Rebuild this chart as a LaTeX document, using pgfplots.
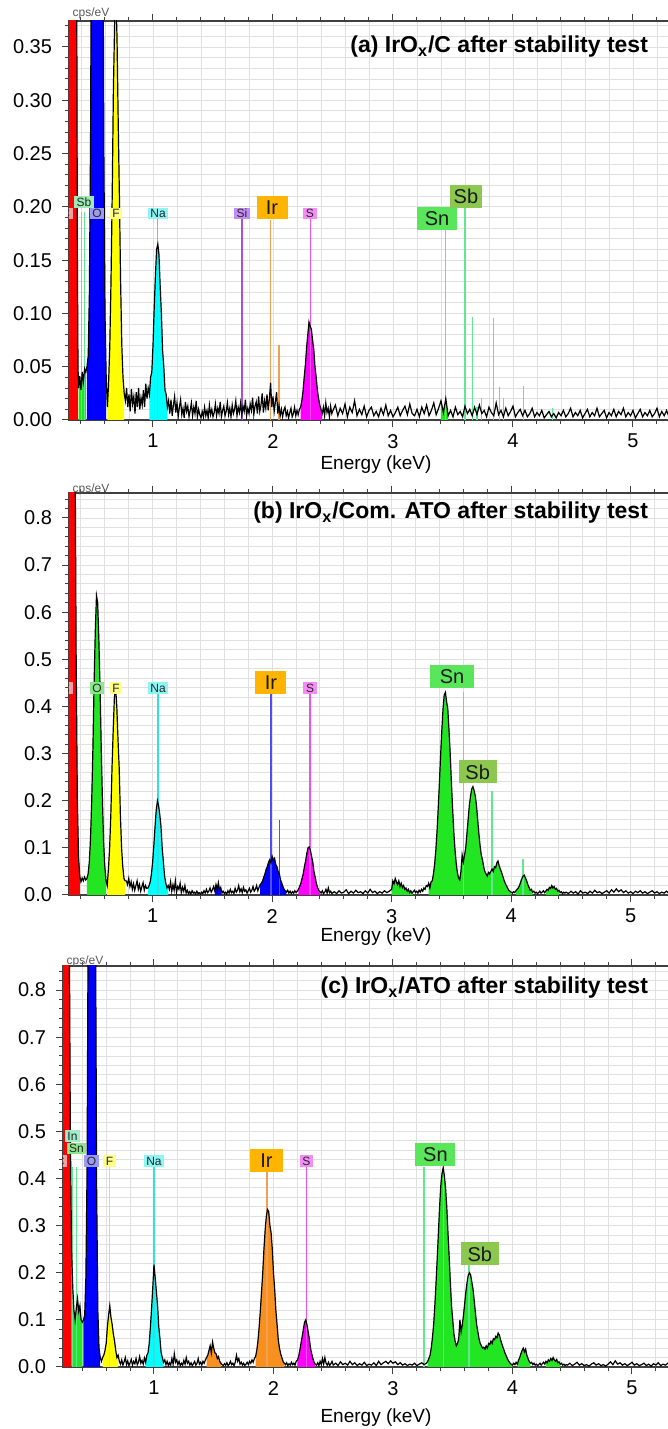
\documentclass[border=0pt]{standalone}
\usepackage{fontspec}
\setmainfont{Liberation Sans}
\usepackage{pgfplots}
\usepackage{pgfplotstable}
\pgfplotsset{compat=1.18}

\definecolor{cR}{HTML}{FF0000}
\definecolor{cB}{HTML}{0000FF}
\definecolor{cY}{HTML}{FFFF00}
\definecolor{cC}{HTML}{00FFFF}
\definecolor{cM}{HTML}{FF00FF}
\definecolor{cG}{HTML}{22E622}
\definecolor{cO}{HTML}{F7901E}
\definecolor{labO1}{HTML}{9A9AF5}
\definecolor{labO2}{HTML}{8CE68C}
\definecolor{labF}{HTML}{FFFF88}
\definecolor{labNa}{HTML}{8CF5F5}
\definecolor{labSi}{HTML}{C38CF5}
\definecolor{labS}{HTML}{F58CF5}
\definecolor{labIr}{HTML}{FFB400}
\definecolor{labSn}{HTML}{5AE65A}
\definecolor{labSns}{HTML}{8CE68C}
\definecolor{labSb}{HTML}{8CC850}
\definecolor{labSbs}{HTML}{9CEBB4}
\definecolor{labIn}{HTML}{A0EBC8}
\definecolor{labC}{HTML}{F5A0A0}
\definecolor{lnNa}{HTML}{33E0E0}
\definecolor{lnSi}{HTML}{A050F0}
\definecolor{lnIr}{HTML}{F0A050}
\definecolor{lnIrb}{HTML}{5050F0}
\definecolor{lnS}{HTML}{F050F0}
\definecolor{lnSn}{HTML}{60E890}
\definecolor{lnF}{HTML}{E8E840}

\tikzset{
 lab/.style={fill=#1, inner xsep=1.3pt, inner ysep=0pt, minimum height=5.6pt, font=\fontsize{6}{6}\selectfont, text=black!85},
 blab/.style={fill=#1, inner xsep=2pt, inner ysep=0pt, minimum height=11.5pt, font=\fontsize{10}{10}\selectfont, text=black!90},
}

\pgfplotsset{
 eds/.style={
   scale only axis, anchor=south west,
   xmax=5.5, ymin=0,
   axis line style={black!75, line width=0.6pt},
   tick align=outside,
   major tick length=3.5pt, minor tick length=2pt,
   tick style={black!75, line width=0.5pt},
   xtick={1,2,3,4,5},
   minor xtick={0.2,0.4,0.6,0.8,1.2,1.4,1.6,1.8,2.2,2.4,2.6,2.8,3.2,3.4,3.6,3.8,4.2,4.4,4.6,4.8,5.2,5.4},
   grid=both,
   major grid style={gray!24, line width=0.45pt},
   minor grid style={gray!24, line width=0.45pt},
   tick label style={font=\fontsize{10}{11}\selectfont},
   /pgf/number format/assume math mode=true,
 },
 mk/.style={draw=#1, line width=0.6pt, forget plot},
 spec/.style={black, line width=0.6pt},
}

\pgfplotstableread[row sep=\\]{
x y\\
0.30 1.2\\ 0.31 1.2\\ 0.32 1.1\\ 0.33 1.0\\ 0.34 0.9\\ 0.35 0.75\\ 0.36 0.6\\ 0.365 0.38\\ 0.37 0.15\\ 0.375 0.05\\
0.38 0.03\\ 0.39 0.041\\ 0.40 0.028\\ 0.41 0.045\\ 0.42 0.036\\ 0.43 0.048\\ 0.44 0.045\\
0.45 0.05\\ 0.46 0.06\\ 0.47 0.12\\ 0.48 0.27\\ 0.49 0.57\\ 0.50 1.05\\ 0.51 1.7\\ 0.52 2.3\\ 0.53 2.7\\ 0.54 2.7\\ 0.55 2.3\\ 0.56 1.7\\ 0.57 1.05\\ 0.58 0.56\\ 0.59 0.26\\ 0.60 0.1\\ 0.61 0.04\\ 0.62 0.012\\
0.63 0.035\\ 0.64 0.07\\ 0.65 0.13\\ 0.66 0.21\\ 0.67 0.31\\ 0.68 0.37\\ 0.69 0.40\\ 0.70 0.36\\ 0.71 0.28\\ 0.72 0.21\\ 0.73 0.13\\ 0.74 0.07\\ 0.75 0.04\\ 0.76 0.025\\
0.77 0.018\\ 0.78 0.03\\ 0.79 0.012\\ 0.80 0.024\\ 0.81 0.008\\ 0.82 0.029\\ 0.83 0.015\\ 0.84 0.022\\ 0.85 0.006\\ 0.86 0.026\\ 0.87 0.012\\ 0.88 0.03\\ 0.89 0.01\\ 0.90 0.021\\ 0.91 0.014\\ 0.92 0.028\\ 0.93 0.012\\ 0.94 0.034\\ 0.95 0.02\\ 0.96 0.03\\
0.97 0.024\\ 0.98 0.04\\ 0.99 0.045\\ 1.00 0.07\\ 1.01 0.105\\ 1.02 0.135\\ 1.03 0.16\\ 1.04 0.165\\ 1.05 0.155\\ 1.06 0.125\\ 1.07 0.10\\ 1.08 0.065\\ 1.09 0.05\\ 1.10 0.028\\ 1.11 0.024\\ 1.12 0.012\\ 1.13 0.018\\
1.14 0.006\\ 1.15 0.019\\ 1.16 0.004\\ 1.17 0.014\\ 1.18 0.022\\ 1.19 0.007\\ 1.20 0.016\\ 1.21 0.003\\ 1.22 0.012\\ 1.23 0.019\\ 1.24 0.005\\ 1.25 0.011\\ 1.26 0.002\\ 1.27 0.017\\ 1.28 0.008\\ 1.29 0.013\\ 1.30 0.003\\ 1.31 0.009\\ 1.32 0.016\\ 1.33 0.004\\ 1.34 0.012\\ 1.35 0.006\\ 1.36 0.018\\ 1.37 0.003\\ 1.38 0.010\\ 1.39 0.005\\
1.40 0.002\\ 1.41 0.008\\ 1.42 0.003\\ 1.43 0.012\\ 1.44 0.004\\ 1.45 0.009\\ 1.46 0.002\\ 1.47 0.014\\ 1.48 0.005\\ 1.49 0.010\\ 1.50 0.003\\ 1.51 0.007\\ 1.52 0.015\\ 1.53 0.004\\ 1.54 0.011\\ 1.55 0.006\\ 1.56 0.017\\ 1.57 0.003\\ 1.58 0.009\\ 1.59 0.013\\ 1.60 0.004\\ 1.61 0.008\\ 1.62 0.016\\ 1.63 0.005\\ 1.64 0.011\\ 1.65 0.003\\ 1.66 0.014\\ 1.67 0.006\\ 1.68 0.010\\ 1.69 0.018\\
1.70 0.004\\ 1.71 0.012\\ 1.72 0.007\\ 1.73 0.016\\ 1.74 0.005\\ 1.75 0.013\\ 1.76 0.008\\ 1.77 0.019\\ 1.78 0.004\\ 1.79 0.011\\ 1.80 0.006\\ 1.81 0.015\\ 1.82 0.009\\ 1.83 0.021\\ 1.84 0.005\\ 1.85 0.013\\ 1.86 0.017\\ 1.87 0.006\\ 1.88 0.022\\ 1.89 0.008\\ 1.90 0.014\\ 1.91 0.025\\ 1.92 0.007\\ 1.93 0.018\\ 1.94 0.011\\ 1.95 0.024\\ 1.96 0.009\\ 1.97 0.020\\ 1.98 0.035\\ 1.99 0.012\\
2.00 0.022\\ 2.01 0.008\\ 2.02 0.017\\ 2.03 0.026\\ 2.04 0.006\\ 2.05 0.014\\ 2.06 0.004\\ 2.07 0.010\\ 2.08 0.003\\ 2.09 0.009\\ 2.10 0.012\\ 2.11 0.004\\ 2.12 0.008\\ 2.13 0.002\\ 2.14 0.007\\ 2.15 0.011\\ 2.16 0.003\\ 2.17 0.006\\ 2.18 0.012\\ 2.19 0.004\\ 2.20 0.009\\ 2.21 0.005\\ 2.22 0.010\\
2.23 0.012\\ 2.24 0.018\\ 2.25 0.027\\ 2.26 0.040\\ 2.27 0.052\\ 2.28 0.068\\ 2.29 0.080\\ 2.30 0.092\\ 2.31 0.088\\ 2.32 0.085\\ 2.33 0.075\\ 2.34 0.066\\ 2.35 0.050\\ 2.36 0.040\\ 2.37 0.028\\ 2.38 0.020\\ 2.39 0.014\\ 2.40 0.010\\ 2.41 0.006\\
2.42 0.012\\ 2.43 0.004\\ 2.44 0.016\\ 2.45 0.007\\ 2.46 0.011\\ 2.47 0.003\\ 2.48 0.013\\ 2.49 0.006\\ 2.50 0.009\\
2.52 0.014\\ 2.54 0.004\\ 2.56 0.011\\ 2.58 0.006\\ 2.60 0.015\\ 2.62 0.003\\ 2.64 0.012\\ 2.66 0.007\\ 2.68 0.018\\ 2.70 0.004\\ 2.72 0.010\\ 2.74 0.005\\ 2.76 0.013\\ 2.78 0.003\\ 2.80 0.009\\ 2.82 0.012\\ 2.84 0.004\\ 2.86 0.008\\ 2.88 0.003\\ 2.90 0.011\\ 2.92 0.005\\ 2.94 0.014\\ 2.96 0.004\\ 2.98 0.009\\
3.00 0.003\\ 3.02 0.007\\ 3.04 0.012\\ 3.06 0.004\\ 3.08 0.009\\ 3.10 0.013\\ 3.12 0.005\\ 3.14 0.015\\ 3.16 0.006\\ 3.18 0.004\\ 3.20 0.010\\ 3.22 0.003\\ 3.24 0.012\\ 3.26 0.006\\ 3.28 0.014\\ 3.30 0.004\\ 3.32 0.009\\ 3.34 0.016\\ 3.36 0.005\\ 3.38 0.011\\ 3.40 0.018\\ 3.42 0.007\\ 3.44 0.020\\ 3.46 0.004\\ 3.48 0.009\\
3.50 0.003\\ 3.52 0.012\\ 3.54 0.005\\ 3.56 0.008\\ 3.58 0.003\\ 3.60 0.013\\ 3.62 0.006\\ 3.64 0.010\\ 3.66 0.004\\ 3.68 0.012\\ 3.70 0.005\\ 3.72 0.014\\ 3.74 0.006\\ 3.76 0.009\\ 3.78 0.003\\ 3.80 0.012\\ 3.82 0.007\\ 3.84 0.004\\ 3.86 0.016\\ 3.88 0.005\\ 3.90 0.009\\ 3.92 0.003\\ 3.94 0.011\\ 3.96 0.004\\ 3.98 0.008\\
4.00 0.013\\ 4.02 0.003\\ 4.04 0.007\\ 4.06 0.010\\ 4.08 0.004\\ 4.10 0.009\\ 4.12 0.003\\ 4.14 0.006\\ 4.16 0.011\\ 4.18 0.003\\ 4.20 0.007\\ 4.22 0.004\\ 4.24 0.009\\ 4.26 0.002\\ 4.28 0.005\\ 4.30 0.008\\ 4.32 0.003\\ 4.34 0.006\\ 4.36 0.002\\ 4.38 0.007\\ 4.40 0.004\\ 4.42 0.009\\ 4.44 0.003\\ 4.46 0.006\\ 4.48 0.011\\
4.50 0.003\\ 4.52 0.007\\ 4.54 0.004\\ 4.56 0.009\\ 4.58 0.002\\ 4.60 0.006\\ 4.62 0.010\\ 4.64 0.003\\ 4.66 0.007\\ 4.68 0.004\\ 4.70 0.011\\ 4.72 0.003\\ 4.74 0.006\\ 4.76 0.009\\ 4.78 0.002\\ 4.80 0.007\\ 4.82 0.004\\ 4.84 0.010\\ 4.86 0.003\\ 4.88 0.008\\ 4.90 0.005\\ 4.92 0.011\\ 4.94 0.003\\ 4.96 0.007\\ 4.98 0.004\\
5.00 0.009\\ 5.02 0.002\\ 5.04 0.006\\ 5.06 0.010\\ 5.08 0.003\\ 5.10 0.007\\ 5.12 0.004\\ 5.14 0.009\\ 5.16 0.003\\ 5.18 0.006\\ 5.20 0.011\\ 5.22 0.003\\ 5.24 0.008\\ 5.26 0.004\\ 5.28 0.009\\ 5.30 0.003\\ 5.32 0.006\\
}\specA

\pgfplotstableread[row sep=\\]{
x y\\
0.30 2.0\\ 0.31 2.0\\ 0.32 1.9\\ 0.33 1.7\\ 0.34 1.4\\ 0.35 1.0\\ 0.36 0.5\\ 0.37 0.2\\ 0.38 0.08\\ 0.39 0.04\\
0.40 0.028\\ 0.41 0.036\\ 0.42 0.03\\ 0.43 0.038\\ 0.44 0.032\\
0.45 0.035\\ 0.46 0.045\\ 0.47 0.07\\ 0.48 0.12\\ 0.49 0.2\\ 0.50 0.31\\ 0.51 0.45\\ 0.52 0.56\\ 0.53 0.635\\ 0.54 0.62\\ 0.55 0.54\\ 0.56 0.44\\ 0.57 0.31\\ 0.58 0.2\\ 0.59 0.11\\ 0.60 0.06\\ 0.61 0.03\\ 0.62 0.02\\
0.63 0.055\\ 0.64 0.1\\ 0.65 0.17\\ 0.66 0.27\\ 0.67 0.35\\ 0.68 0.42\\ 0.69 0.44\\ 0.70 0.40\\ 0.71 0.33\\ 0.72 0.27\\ 0.73 0.17\\ 0.74 0.10\\ 0.75 0.06\\ 0.76 0.035\\ 0.77 0.03\\
0.78 0.03\\ 0.79 0.022\\ 0.80 0.035\\ 0.81 0.018\\ 0.82 0.028\\ 0.83 0.012\\ 0.84 0.024\\ 0.85 0.01\\ 0.86 0.02\\ 0.87 0.03\\ 0.88 0.012\\ 0.89 0.022\\ 0.90 0.008\\ 0.91 0.018\\ 0.92 0.026\\ 0.93 0.01\\ 0.94 0.02\\ 0.95 0.014\\
0.96 0.015\\ 0.97 0.02\\ 0.98 0.028\\ 0.99 0.045\\ 1.00 0.07\\ 1.01 0.105\\ 1.02 0.145\\ 1.03 0.18\\ 1.04 0.2\\ 1.05 0.19\\ 1.06 0.17\\ 1.07 0.145\\ 1.08 0.1\\ 1.09 0.07\\ 1.10 0.04\\ 1.11 0.025\\ 1.12 0.015\\ 1.13 0.02\\
1.14 0.012\\ 1.15 0.028\\ 1.16 0.008\\ 1.17 0.022\\ 1.18 0.01\\ 1.19 0.03\\ 1.20 0.006\\ 1.21 0.018\\ 1.22 0.012\\ 1.23 0.025\\ 1.24 0.005\\ 1.25 0.016\\ 1.26 0.008\\ 1.27 0.02\\ 1.28 0.004\\ 1.29 0.01\\ 1.30 0.003\\ 1.31 0.007\\ 1.32 0.002\\ 1.33 0.009\\ 1.34 0.004\\ 1.35 0.006\\ 1.36 0.002\\ 1.37 0.008\\ 1.38 0.003\\ 1.39 0.005\\
1.40 0.002\\ 1.41 0.006\\ 1.42 0.003\\ 1.43 0.009\\ 1.44 0.004\\ 1.45 0.012\\ 1.46 0.005\\ 1.47 0.008\\ 1.48 0.015\\ 1.49 0.006\\ 1.50 0.011\\ 1.51 0.018\\ 1.52 0.009\\ 1.53 0.022\\ 1.54 0.012\\ 1.55 0.026\\ 1.56 0.01\\ 1.57 0.016\\ 1.58 0.004\\ 1.59 0.008\\ 1.60 0.003\\ 1.61 0.006\\ 1.62 0.002\\ 1.63 0.009\\ 1.64 0.004\\ 1.65 0.012\\ 1.66 0.005\\ 1.67 0.008\\ 1.68 0.003\\ 1.69 0.014\\
1.70 0.006\\ 1.71 0.01\\ 1.72 0.02\\ 1.73 0.007\\ 1.74 0.013\\ 1.75 0.005\\ 1.76 0.016\\ 1.77 0.008\\ 1.78 0.011\\ 1.79 0.004\\ 1.80 0.009\\ 1.81 0.014\\ 1.82 0.006\\ 1.83 0.01\\ 1.84 0.018\\ 1.85 0.008\\ 1.86 0.012\\ 1.87 0.02\\ 1.88 0.009\\ 1.89 0.016\\
1.90 0.022\\ 1.91 0.025\\ 1.92 0.03\\ 1.93 0.038\\ 1.94 0.045\\ 1.95 0.055\\ 1.96 0.06\\ 1.97 0.07\\ 1.98 0.075\\ 1.99 0.068\\ 2.00 0.082\\ 2.01 0.074\\ 2.02 0.078\\ 2.03 0.065\\ 2.04 0.06\\ 2.05 0.05\\ 2.06 0.045\\ 2.07 0.032\\ 2.08 0.026\\ 2.09 0.018\\ 2.10 0.012\\ 2.11 0.009\\ 2.12 0.006\\
2.13 0.01\\ 2.14 0.004\\ 2.15 0.008\\ 2.16 0.003\\ 2.17 0.007\\ 2.18 0.004\\ 2.19 0.009\\ 2.20 0.005\\ 2.21 0.008\\ 2.22 0.012\\
2.23 0.018\\ 2.24 0.025\\ 2.25 0.035\\ 2.26 0.045\\ 2.27 0.06\\ 2.28 0.072\\ 2.29 0.088\\ 2.30 0.1\\ 2.31 0.102\\ 2.32 0.095\\ 2.33 0.082\\ 2.34 0.07\\ 2.35 0.05\\ 2.36 0.038\\ 2.37 0.025\\ 2.38 0.016\\ 2.39 0.01\\ 2.40 0.007\\
2.41 0.004\\ 2.42 0.009\\ 2.43 0.003\\ 2.44 0.006\\ 2.45 0.012\\ 2.46 0.004\\ 2.47 0.015\\ 2.48 0.005\\ 2.49 0.008\\ 2.50 0.003\\
2.52 0.007\\ 2.54 0.003\\ 2.56 0.009\\ 2.58 0.004\\ 2.60 0.006\\ 2.62 0.011\\ 2.64 0.003\\ 2.66 0.008\\ 2.68 0.004\\ 2.70 0.01\\ 2.72 0.005\\ 2.74 0.007\\ 2.76 0.003\\ 2.78 0.009\\ 2.80 0.004\\ 2.82 0.012\\ 2.84 0.005\\ 2.86 0.008\\ 2.88 0.003\\ 2.90 0.007\\ 2.92 0.004\\ 2.94 0.009\\ 2.96 0.005\\ 2.98 0.008\\
3.00 0.012\\ 3.01 0.03\\ 3.02 0.024\\ 3.03 0.035\\ 3.04 0.028\\ 3.05 0.022\\ 3.06 0.03\\ 3.07 0.018\\ 3.08 0.025\\ 3.09 0.016\\ 3.10 0.02\\ 3.11 0.012\\ 3.12 0.015\\ 3.13 0.008\\ 3.14 0.012\\ 3.15 0.005\\ 3.16 0.009\\ 3.17 0.004\\ 3.18 0.007\\ 3.19 0.01\\ 3.20 0.005\\
3.21 0.008\\ 3.22 0.004\\ 3.23 0.01\\ 3.24 0.006\\ 3.25 0.012\\ 3.26 0.008\\ 3.27 0.015\\ 3.28 0.012\\ 3.29 0.02\\ 3.30 0.018\\ 3.31 0.025\\
3.32 0.015\\ 3.33 0.028\\ 3.34 0.03\\ 3.35 0.045\\ 3.36 0.066\\ 3.37 0.096\\ 3.38 0.136\\ 3.39 0.185\\ 3.40 0.24\\ 3.41 0.298\\ 3.42 0.35\\ 3.43 0.395\\ 3.44 0.425\\ 3.45 0.43\\ 3.46 0.41\\ 3.47 0.395\\ 3.48 0.35\\ 3.49 0.30\\ 3.50 0.24\\ 3.51 0.185\\ 3.52 0.135\\ 3.53 0.097\\ 3.54 0.068\\ 3.55 0.048\\ 3.56 0.036\\ 3.57 0.032\\ 3.58 0.05\\ 3.59 0.085\\
3.60 0.07\\ 3.61 0.085\\ 3.62 0.10\\ 3.63 0.13\\ 3.64 0.16\\ 3.65 0.19\\ 3.66 0.21\\ 3.67 0.225\\ 3.68 0.23\\ 3.69 0.222\\ 3.70 0.21\\ 3.71 0.19\\ 3.72 0.16\\ 3.73 0.13\\ 3.74 0.105\\ 3.75 0.085\\ 3.76 0.075\\ 3.77 0.06\\ 3.78 0.05\\ 3.79 0.045\\
3.80 0.04\\ 3.81 0.048\\ 3.82 0.045\\ 3.83 0.05\\ 3.84 0.055\\ 3.85 0.05\\ 3.86 0.06\\ 3.87 0.058\\ 3.88 0.068\\ 3.89 0.072\\ 3.90 0.062\\ 3.91 0.055\\ 3.92 0.048\\ 3.93 0.04\\ 3.94 0.032\\ 3.95 0.025\\ 3.96 0.02\\ 3.97 0.015\\ 3.98 0.01\\ 3.99 0.008\\ 4.00 0.006\\
4.01 0.004\\ 4.02 0.007\\ 4.03 0.005\\ 4.04 0.009\\ 4.05 0.012\\ 4.06 0.015\\ 4.07 0.02\\ 4.08 0.028\\ 4.09 0.035\\ 4.10 0.04\\ 4.11 0.042\\ 4.12 0.036\\ 4.13 0.03\\ 4.14 0.022\\ 4.15 0.016\\ 4.16 0.01\\ 4.17 0.012\\ 4.18 0.006\\ 4.19 0.008\\ 4.20 0.004\\
4.21 0.006\\ 4.22 0.003\\ 4.23 0.005\\ 4.24 0.008\\ 4.25 0.004\\ 4.26 0.006\\ 4.27 0.009\\ 4.28 0.005\\ 4.29 0.008\\ 4.30 0.012\\ 4.31 0.01\\ 4.32 0.016\\ 4.33 0.014\\ 4.34 0.02\\ 4.35 0.015\\ 4.36 0.018\\ 4.37 0.012\\ 4.38 0.014\\ 4.39 0.008\\ 4.40 0.01\\ 4.41 0.005\\ 4.42 0.007\\ 4.43 0.003\\ 4.44 0.006\\ 4.45 0.004\\
4.46 0.006\\ 4.48 0.003\\ 4.50 0.008\\ 4.52 0.004\\ 4.54 0.007\\ 4.56 0.002\\ 4.58 0.009\\ 4.60 0.004\\ 4.62 0.006\\ 4.64 0.003\\ 4.66 0.008\\ 4.68 0.004\\ 4.70 0.01\\ 4.72 0.005\\ 4.74 0.007\\ 4.76 0.003\\ 4.78 0.006\\ 4.80 0.009\\ 4.82 0.004\\ 4.84 0.011\\ 4.86 0.006\\ 4.88 0.013\\ 4.90 0.007\\ 4.92 0.011\\ 4.94 0.005\\ 4.96 0.009\\ 4.98 0.004\\
5.00 0.007\\ 5.02 0.003\\ 5.04 0.008\\ 5.06 0.005\\ 5.08 0.009\\ 5.10 0.004\\ 5.12 0.007\\ 5.14 0.003\\ 5.16 0.006\\ 5.18 0.009\\ 5.20 0.004\\ 5.22 0.007\\ 5.24 0.003\\ 5.26 0.006\\ 5.28 0.004\\ 5.30 0.008\\ 5.32 0.004\\
}\specB

\pgfplotstableread[row sep=\\]{
x y\\
0.24 2.0\\ 0.25 2.0\\ 0.26 2.0\\ 0.27 1.8\\ 0.28 1.5\\ 0.29 1.0\\ 0.30 0.5\\ 0.31 0.25\\ 0.32 0.17\\ 0.33 0.12\\ 0.34 0.1\\ 0.35 0.125\\ 0.36 0.145\\ 0.37 0.118\\ 0.38 0.13\\ 0.39 0.1\\ 0.40 0.095\\
0.41 0.1\\ 0.42 0.11\\ 0.43 0.19\\ 0.44 0.42\\ 0.45 1.0\\ 0.46 1.95\\ 0.47 2.96\\ 0.48 3.4\\ 0.49 2.96\\ 0.50 1.95\\ 0.51 1.0\\ 0.52 0.38\\ 0.53 0.12\\ 0.54 0.04\\ 0.55 0.02\\
0.56 0.012\\ 0.57 0.02\\ 0.58 0.025\\ 0.59 0.035\\ 0.60 0.05\\ 0.61 0.085\\ 0.62 0.11\\ 0.63 0.13\\ 0.64 0.105\\ 0.65 0.09\\ 0.66 0.07\\ 0.67 0.055\\ 0.68 0.035\\ 0.69 0.02\\ 0.70 0.025\\ 0.71 0.012\\
0.72 0.006\\ 0.73 0.015\\ 0.74 0.004\\ 0.75 0.011\\ 0.76 0.02\\ 0.77 0.005\\ 0.78 0.013\\ 0.79 0.003\\ 0.80 0.009\\ 0.81 0.016\\ 0.82 0.004\\ 0.83 0.012\\ 0.84 0.007\\ 0.85 0.018\\ 0.86 0.005\\ 0.87 0.01\\ 0.88 0.022\\ 0.89 0.008\\ 0.90 0.014\\ 0.91 0.006\\ 0.92 0.019\\
0.93 0.01\\ 0.94 0.025\\ 0.95 0.03\\ 0.96 0.05\\ 0.97 0.085\\ 0.98 0.125\\ 0.99 0.17\\ 1.00 0.217\\ 1.01 0.19\\ 1.02 0.16\\ 1.03 0.13\\ 1.04 0.085\\ 1.05 0.06\\ 1.06 0.03\\ 1.07 0.02\\ 1.08 0.01\\
1.09 0.015\\ 1.10 0.005\\ 1.11 0.012\\ 1.12 0.003\\ 1.13 0.009\\ 1.14 0.004\\ 1.15 0.018\\ 1.16 0.006\\ 1.17 0.028\\ 1.18 0.01\\ 1.19 0.015\\ 1.20 0.005\\ 1.21 0.012\\ 1.22 0.003\\ 1.23 0.008\\ 1.24 0.004\\ 1.25 0.014\\ 1.26 0.006\\ 1.27 0.02\\ 1.28 0.008\\ 1.29 0.012\\
1.30 0.004\\ 1.31 0.009\\ 1.32 0.003\\ 1.33 0.007\\ 1.34 0.012\\ 1.35 0.004\\ 1.36 0.008\\ 1.37 0.018\\ 1.38 0.006\\ 1.39 0.01\\ 1.40 0.004\\ 1.41 0.012\\ 1.42 0.008\\ 1.43 0.015\\ 1.44 0.02\\
1.45 0.025\\ 1.46 0.035\\ 1.47 0.045\\ 1.48 0.03\\ 1.49 0.053\\ 1.50 0.04\\ 1.51 0.03\\ 1.52 0.028\\ 1.53 0.018\\ 1.54 0.022\\ 1.55 0.012\\ 1.56 0.008\\ 1.57 0.005\\
1.58 0.003\\ 1.59 0.007\\ 1.60 0.004\\ 1.61 0.009\\ 1.62 0.003\\ 1.63 0.006\\ 1.64 0.012\\ 1.65 0.005\\ 1.66 0.008\\ 1.67 0.003\\ 1.68 0.01\\ 1.69 0.025\\ 1.70 0.012\\ 1.71 0.018\\ 1.72 0.006\\ 1.73 0.01\\ 1.74 0.004\\ 1.75 0.008\\ 1.76 0.003\\ 1.77 0.006\\ 1.78 0.01\\ 1.79 0.005\\ 1.80 0.012\\ 1.81 0.008\\ 1.82 0.015\\ 1.83 0.01\\ 1.84 0.018\\
1.85 0.022\\ 1.86 0.035\\ 1.87 0.055\\ 1.88 0.085\\ 1.89 0.12\\ 1.90 0.16\\ 1.91 0.2\\ 1.92 0.25\\ 1.93 0.29\\ 1.94 0.32\\ 1.95 0.334\\ 1.96 0.33\\ 1.97 0.3\\ 1.98 0.285\\ 1.99 0.25\\ 2.00 0.2\\ 2.01 0.165\\ 2.02 0.12\\ 2.03 0.09\\ 2.04 0.058\\ 2.05 0.04\\ 2.06 0.028\\ 2.07 0.02\\ 2.08 0.012\\ 2.09 0.008\\
2.10 0.005\\ 2.11 0.009\\ 2.12 0.003\\ 2.13 0.007\\ 2.14 0.004\\ 2.15 0.01\\ 2.16 0.005\\ 2.17 0.008\\ 2.18 0.004\\ 2.19 0.012\\ 2.20 0.015\\
2.21 0.022\\ 2.22 0.035\\ 2.23 0.05\\ 2.24 0.065\\ 2.25 0.08\\ 2.26 0.095\\ 2.27 0.1\\ 2.28 0.09\\ 2.29 0.075\\ 2.30 0.06\\ 2.31 0.04\\ 2.32 0.028\\ 2.33 0.018\\ 2.34 0.01\\ 2.35 0.006\\
2.36 0.004\\ 2.37 0.009\\ 2.38 0.003\\ 2.39 0.012\\ 2.40 0.005\\ 2.41 0.018\\ 2.42 0.006\\ 2.43 0.02\\ 2.44 0.008\\ 2.45 0.004\\ 2.46 0.01\\ 2.47 0.003\\ 2.48 0.007\\ 2.49 0.012\\ 2.50 0.004\\
2.52 0.008\\ 2.54 0.003\\ 2.56 0.011\\ 2.58 0.005\\ 2.60 0.008\\ 2.62 0.004\\ 2.64 0.012\\ 2.66 0.005\\ 2.68 0.009\\ 2.70 0.003\\ 2.72 0.007\\ 2.74 0.004\\ 2.76 0.01\\ 2.78 0.003\\ 2.80 0.006\\ 2.82 0.004\\ 2.84 0.009\\ 2.86 0.003\\ 2.88 0.012\\ 2.90 0.005\\ 2.92 0.009\\ 2.94 0.012\\ 2.96 0.007\\ 2.98 0.013\\
3.00 0.008\\ 3.02 0.011\\ 3.04 0.005\\ 3.06 0.009\\ 3.08 0.004\\ 3.10 0.007\\ 3.12 0.003\\ 3.14 0.006\\ 3.16 0.004\\ 3.18 0.008\\ 3.20 0.003\\ 3.22 0.006\\ 3.24 0.009\\ 3.26 0.005\\ 3.28 0.008\\
3.29 0.012\\ 3.30 0.018\\ 3.31 0.025\\ 3.32 0.04\\ 3.33 0.062\\ 3.34 0.09\\ 3.35 0.13\\ 3.36 0.178\\ 3.37 0.23\\ 3.38 0.285\\ 3.39 0.34\\ 3.40 0.385\\ 3.41 0.41\\ 3.42 0.423\\ 3.43 0.405\\ 3.44 0.38\\ 3.45 0.34\\ 3.46 0.285\\ 3.47 0.235\\ 3.48 0.18\\ 3.49 0.13\\ 3.50 0.1\\ 3.51 0.07\\ 3.52 0.055\\ 3.53 0.045\\ 3.54 0.05\\ 3.55 0.06\\ 3.56 0.1\\ 3.57 0.075\\ 3.58 0.09\\ 3.59 0.11\\
3.60 0.135\\ 3.61 0.16\\ 3.62 0.18\\ 3.63 0.195\\ 3.64 0.2\\ 3.65 0.195\\ 3.66 0.18\\ 3.67 0.165\\ 3.68 0.14\\ 3.69 0.115\\ 3.70 0.09\\ 3.71 0.075\\ 3.72 0.06\\ 3.73 0.05\\ 3.74 0.045\\ 3.75 0.04\\ 3.76 0.042\\ 3.77 0.038\\ 3.78 0.045\\ 3.79 0.04\\
3.80 0.05\\ 3.81 0.048\\ 3.82 0.055\\ 3.83 0.05\\ 3.84 0.06\\ 3.85 0.058\\ 3.86 0.065\\ 3.87 0.062\\ 3.88 0.072\\ 3.89 0.068\\ 3.90 0.058\\ 3.91 0.05\\ 3.92 0.042\\ 3.93 0.035\\ 3.94 0.028\\ 3.95 0.022\\ 3.96 0.016\\ 3.97 0.012\\ 3.98 0.008\\ 3.99 0.006\\ 4.00 0.004\\
4.01 0.008\\ 4.02 0.005\\ 4.03 0.01\\ 4.04 0.006\\ 4.05 0.014\\ 4.06 0.02\\ 4.07 0.028\\ 4.08 0.035\\ 4.09 0.04\\ 4.10 0.032\\ 4.11 0.038\\ 4.12 0.025\\ 4.13 0.018\\ 4.14 0.012\\ 4.15 0.008\\ 4.16 0.01\\ 4.17 0.005\\ 4.18 0.008\\ 4.19 0.004\\ 4.20 0.006\\
4.21 0.003\\ 4.22 0.005\\ 4.23 0.008\\ 4.24 0.004\\ 4.25 0.007\\ 4.26 0.01\\ 4.27 0.006\\ 4.28 0.012\\ 4.29 0.009\\ 4.30 0.015\\ 4.31 0.012\\ 4.32 0.018\\ 4.33 0.014\\ 4.34 0.02\\ 4.35 0.015\\ 4.36 0.012\\ 4.37 0.016\\ 4.38 0.009\\ 4.39 0.011\\ 4.40 0.006\\ 4.41 0.008\\ 4.42 0.004\\ 4.43 0.006\\ 4.44 0.003\\ 4.45 0.005\\
4.46 0.004\\ 4.48 0.008\\ 4.50 0.003\\ 4.52 0.006\\ 4.54 0.01\\ 4.56 0.004\\ 4.58 0.007\\ 4.60 0.003\\ 4.62 0.005\\ 4.64 0.002\\ 4.66 0.006\\ 4.68 0.009\\ 4.70 0.004\\ 4.72 0.007\\ 4.74 0.003\\ 4.76 0.005\\ 4.78 0.002\\ 4.80 0.006\\ 4.82 0.011\\ 4.84 0.005\\ 4.86 0.013\\ 4.88 0.006\\ 4.90 0.009\\ 4.92 0.004\\ 4.94 0.007\\ 4.96 0.003\\ 4.98 0.006\\
5.00 0.01\\ 5.02 0.004\\ 5.04 0.007\\ 5.06 0.003\\ 5.08 0.005\\ 5.10 0.008\\ 5.12 0.003\\ 5.14 0.006\\ 5.16 0.002\\ 5.18 0.007\\ 5.20 0.004\\ 5.22 0.009\\ 5.24 0.003\\ 5.26 0.006\\ 5.28 0.004\\ 5.30 0.008\\ 5.32 0.004\\
}\specC

\begin{document}
\begin{tikzpicture}
%================ (a) ================
\begin{axis}[eds, at={(34.5pt,504.5pt)}, width=312pt, height=199.5pt,
  xmin=0.3, ymax=0.3744,
  ytick={0,0.05,0.1,0.15,0.2,0.25,0.3,0.35},
  minor ytick={0.01,0.02,0.03,0.04,0.06,0.07,0.08,0.09,0.11,0.12,0.13,0.14,0.16,0.17,0.18,0.19,0.21,0.22,0.23,0.24,0.26,0.27,0.28,0.29,0.31,0.32,0.33,0.34,0.36,0.37},
  y tick label style={xshift=-1.5pt,/pgf/number format/.cd,fixed,fixed zerofill,precision=2}]
\addplot[draw=none,fill=cR,restrict x to domain=0.29:0.378] table {\specA} \closedcycle;
\addplot[draw=none,fill=cG,restrict x to domain=0.378:0.445] table {\specA} \closedcycle;
\addplot[draw=none,fill=cB,restrict x to domain=0.445:0.615] table {\specA} \closedcycle;
\addplot[draw=none,fill=cY,restrict x to domain=0.615:0.765] table {\specA} \closedcycle;
\addplot[draw=none,fill=cC,restrict x to domain=0.965:1.125] table {\specA} \closedcycle;
\addplot[draw=none,fill=cM,restrict x to domain=2.225:2.415] table {\specA} \closedcycle;
\addplot[draw=none,fill=cG,restrict x to domain=3.39:3.47] table {\specA} \closedcycle;
\addplot[mk=lnSn] coordinates {(0.405,0) (0.405,0.195)};
\addplot[mk=lnSn] coordinates {(0.43,0) (0.43,0.195)};
\addplot[mk=lnNa] coordinates {(1.04,0) (1.04,0.189)};
\addplot[mk=lnSi] coordinates {(1.742,0) (1.742,0.189)};
\addplot[mk=lnIr] coordinates {(1.98,0) (1.98,0.188)};
\addplot[mk=lnIr] coordinates {(2.05,0) (2.05,0.07)};
\addplot[mk=lnS] coordinates {(2.31,0) (2.31,0.189)};
\addplot[mk=lnSn] coordinates {(3.44,0) (3.44,0.178)};
\addplot[mk=lnSn] coordinates {(3.60,0) (3.60,0.199)};
\addplot[mk=lnSn] coordinates {(3.66,0) (3.66,0.097)};
\addplot[mk=lnSn] coordinates {(3.84,0) (3.84,0.096)};
\addplot[mk=lnSn] coordinates {(3.70,0) (3.70,0.012)};
\addplot[mk=lnSn] coordinates {(3.74,0) (3.74,0.021)};
\addplot[mk=lnSn] coordinates {(3.89,0) (3.89,0.031)};
\addplot[mk=lnSn] coordinates {(3.92,0) (3.92,0.021)};
\addplot[mk=lnSn] coordinates {(4.09,0) (4.09,0.032)};
\addplot[mk=lnSn] coordinates {(4.33,0) (4.33,0.011)};
\addplot[spec] table {\specA};
\node[lab=labC] at (axis cs:0.272,0.194) {C};
\node[lab=labSbs] at (axis cs:0.425,0.2046) {Sb};
\node[lab=labO1] at (axis cs:0.533,0.194) {O};
\node[lab=labF] at (axis cs:0.692,0.194) {F};
\node[lab=labNa] at (axis cs:1.042,0.194) {Na};
\node[lab=labSi] at (axis cs:1.742,0.194) {Si};
\node[lab=labS] at (axis cs:2.308,0.194) {S};
\node[blab=labIr, minimum width=15.5pt] at (axis cs:1.992,0.199) {Ir};
\node[blab=labSn, minimum width=20pt] at (axis cs:3.367,0.1886) {Sn};
\node[blab=labSb, minimum width=16pt] at (axis cs:3.608,0.210) {Sb};
\end{axis}
%================ (b) ================
\begin{axis}[eds, at={(34.5pt,267pt)}, width=310.7pt, height=201pt,
  xmin=0.3, ymax=0.853,
  ytick={0,0.1,0.2,0.3,0.4,0.5,0.6,0.7,0.8},
  minor ytick={0.02,0.04,0.06,0.08,0.12,0.14,0.16,0.18,0.22,0.24,0.26,0.28,0.32,0.34,0.36,0.38,0.42,0.44,0.46,0.48,0.52,0.54,0.56,0.58,0.62,0.64,0.66,0.68,0.72,0.74,0.76,0.78,0.82,0.84},
  y tick label style={xshift=-1.5pt,/pgf/number format/.cd,fixed,fixed zerofill,precision=1}]
\addplot[draw=none,fill=cR,restrict x to domain=0.29:0.395] table {\specB} \closedcycle;
\addplot[draw=none,fill=cG,restrict x to domain=0.445:0.615] table {\specB} \closedcycle;
\addplot[draw=none,fill=cY,restrict x to domain=0.615:0.775] table {\specB} \closedcycle;
\addplot[draw=none,fill=cC,restrict x to domain=0.955:1.135] table {\specB} \closedcycle;
\addplot[draw=none,fill=cB,restrict x to domain=1.515:1.575] table {\specB} \closedcycle;
\addplot[draw=none,fill=cB,restrict x to domain=1.895:2.125] table {\specB} \closedcycle;
\addplot[draw=none,fill=cM,restrict x to domain=2.215:2.405] table {\specB} \closedcycle;
\addplot[draw=none,fill=cG,restrict x to domain=2.995:3.185] table {\specB} \closedcycle;
\addplot[draw=none,fill=cG,restrict x to domain=3.305:4.005] table {\specB} \closedcycle;
\addplot[draw=none,fill=cG,restrict x to domain=4.035:4.185] table {\specB} \closedcycle;
\addplot[draw=none,fill=cG,restrict x to domain=4.285:4.405] table {\specB} \closedcycle;
\addplot[mk=lnNa] coordinates {(1.045,0) (1.045,0.43)};
\addplot[mk=lnIrb] coordinates {(1.99,0) (1.99,0.427)};
\addplot[mk=lnIrb] coordinates {(2.06,0) (2.06,0.16)};
\addplot[mk=lnS] coordinates {(2.317,0) (2.317,0.43)};
\addplot[mk=lnSn] coordinates {(3.60,0) (3.60,0.43)};
\addplot[mk=lnSn] coordinates {(3.84,0) (3.84,0.22)};
\addplot[mk=lnSn] coordinates {(4.10,0) (4.10,0.077)};
\addplot[spec] table {\specB};
\node[lab=labC] at (axis cs:0.272,0.439) {C};
\node[lab=labO2] at (axis cs:0.534,0.439) {O};
\node[lab=labF] at (axis cs:0.693,0.439) {F};
\node[lab=labNa] at (axis cs:1.045,0.439) {Na};
\node[lab=labS] at (axis cs:2.317,0.439) {S};
\node[blab=labIr, minimum width=15.5pt] at (axis cs:1.99,0.45) {Ir};
\node[blab=labSn, minimum width=22pt] at (axis cs:3.505,0.4626) {Sn};
\node[blab=labSb, minimum width=19pt] at (axis cs:3.72,0.261) {Sb};
\end{axis}
%================ (c) ================
\begin{axis}[eds, at={(31.5pt,31pt)}, width=314.37pt, height=200.5pt,
  xmin=0.2385, ymax=0.851,
  ytick={0,0.1,0.2,0.3,0.4,0.5,0.6,0.7,0.8},
  minor ytick={0.02,0.04,0.06,0.08,0.12,0.14,0.16,0.18,0.22,0.24,0.26,0.28,0.32,0.34,0.36,0.38,0.42,0.44,0.46,0.48,0.52,0.54,0.56,0.58,0.62,0.64,0.66,0.68,0.72,0.74,0.76,0.78,0.82,0.84},
  y tick label style={xshift=-1.5pt,/pgf/number format/.cd,fixed,fixed zerofill,precision=1}]
\addplot[draw=none,fill=cR,restrict x to domain=0.23:0.315] table {\specC} \closedcycle;
\addplot[draw=none,fill=cG,restrict x to domain=0.315:0.405] table {\specC} \closedcycle;
\addplot[draw=none,fill=cB,restrict x to domain=0.405:0.555] table {\specC} \closedcycle;
\addplot[draw=none,fill=cY,restrict x to domain=0.565:0.705] table {\specC} \closedcycle;
\addplot[draw=none,fill=cC,restrict x to domain=0.925:1.085] table {\specC} \closedcycle;
\addplot[draw=none,fill=cO,restrict x to domain=1.435:1.565] table {\specC} \closedcycle;
\addplot[draw=none,fill=cO,restrict x to domain=1.845:2.095] table {\specC} \closedcycle;
\addplot[draw=none,fill=cM,restrict x to domain=2.195:2.355] table {\specC} \closedcycle;
\addplot[draw=none,fill=cG,restrict x to domain=3.285:4.005] table {\specC} \closedcycle;
\addplot[draw=none,fill=cG,restrict x to domain=4.035:4.155] table {\specC} \closedcycle;
\addplot[draw=none,fill=cG,restrict x to domain=4.275:4.405] table {\specC} \closedcycle;
\addplot[mk=lnSn] coordinates {(0.32,0) (0.32,0.425)};
\addplot[mk=lnSn] coordinates {(0.35,0) (0.35,0.425)};
\addplot[mk=lnF] coordinates {(0.628,0) (0.628,0.425)};
\addplot[mk=lnNa] coordinates {(1.0,0) (1.0,0.425)};
\addplot[mk=lnIr] coordinates {(1.945,0) (1.945,0.414)};
\addplot[mk=lnS] coordinates {(2.276,0) (2.276,0.425)};
\addplot[mk=lnSn] coordinates {(3.259,0) (3.259,0.424)};
\addplot[mk=lnSn] coordinates {(3.42,0) (3.42,0.43)};
\addplot[mk=lnSn] coordinates {(3.636,0) (3.636,0.23)};
\addplot[spec] table {\specC};
\node[lab=labIn] at (axis cs:0.318,0.490) {In};
\node[lab=labSns] at (axis cs:0.351,0.464) {Sn};
\node[lab=labC] at (axis cs:0.215,0.437) {C};
\node[lab=labO1] at (axis cs:0.477,0.437) {O};
\node[lab=labF] at (axis cs:0.628,0.437) {F};
\node[lab=labNa] at (axis cs:1.0,0.437) {Na};
\node[lab=labS] at (axis cs:2.276,0.437) {S};
\node[blab=labIr, minimum width=16.5pt] at (axis cs:1.941,0.438) {Ir};
\node[blab=labSn, minimum width=20pt] at (axis cs:3.355,0.45) {Sn};
\node[blab=labSb, minimum width=19pt] at (axis cs:3.727,0.240) {Sb};
\end{axis}
%================ texts ================
\node[anchor=east, font=\fontsize{11.5}{13}\selectfont\bfseries] at (327.5pt,691pt) {(a) IrO\textsubscript{x}/C after stability test};
\node[anchor=east, font=\fontsize{11.5}{13}\selectfont\bfseries] at (327.5pt,458pt) {(b) IrO\textsubscript{x}/Com. ATO after stability test};
\node[anchor=east, font=\fontsize{11.5}{13}\selectfont\bfseries] at (327.5pt,220.5pt) {(c) IrO\textsubscript{x}/ATO after stability test};
\node[font=\fontsize{6}{6}\selectfont, text=black!65] at (45.5pt,708pt) {cps/eV};
\node[font=\fontsize{6}{6}\selectfont, text=black!65] at (45.5pt,470pt) {cps/eV};
\node[font=\fontsize{6}{6}\selectfont, text=black!65] at (42.5pt,234pt) {cps/eV};
\node[font=\fontsize{9.5}{10}\selectfont] at (188pt,482pt) {Energy (keV)};
\node[font=\fontsize{9.5}{10}\selectfont] at (188pt,246pt) {Energy (keV)};
\node[font=\fontsize{9.5}{10}\selectfont] at (188pt,5.5pt) {Energy (keV)};
\pgfresetboundingbox
\path[use as bounding box] (0pt,0pt) rectangle (334pt,714.5pt);
\end{tikzpicture}
\end{document}
